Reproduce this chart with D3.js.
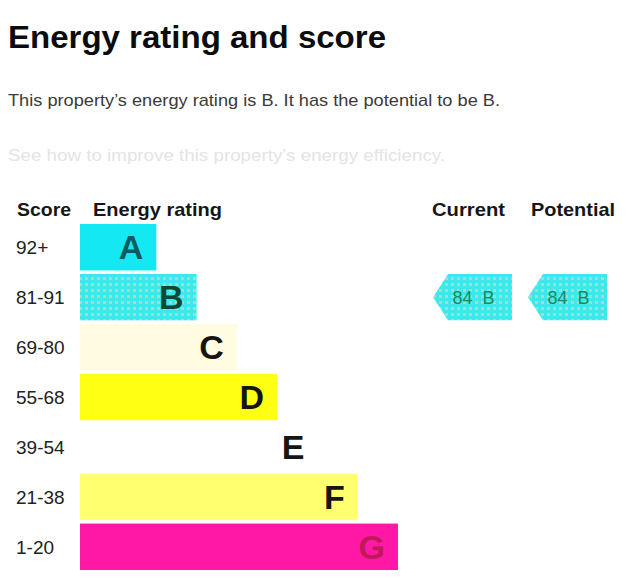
<!DOCTYPE html>
<html><head><meta charset="utf-8">
<script src="https://cdn.jsdelivr.net/npm/d3@7"></script>
<style>body{margin:0;background:#fff}svg{display:block}</style>
</head><body>
<script>
const bands = ["A","B","C","D","E","F","G"];
const scoreRanges = ["92+","81-91","69-80","55-68","39-54","21-38","1-20"];
const bandRank = [1,2,3,4,5,6,7];
const bandColors = ["#14e8f2","url(#dotsB)","#fffce2","#ffff14","#ffffff","#ffff70","#ff18a6"];
const letterColors = ["#0d5a60","#0f4a30","#151515","#151515","#151515","#151515","#c2185b"];
const headers = ["Score","Energy rating","Current","Potential"];
const currentScore = 84, currentBand = "B";
const potentialScore = 84, potentialBand = "B";

const W = 640, H = 585;
const FONT = "Liberation Sans, Arial, sans-serif";
const svg = d3.select("body").append("svg").attr("width", W).attr("height", H);
const defs = svg.append("defs");
const pat = defs.append("pattern").attr("id","dotsB").attr("patternUnits","userSpaceOnUse").attr("width",6).attr("height",6);
pat.append("rect").attr("width",6).attr("height",6).attr("fill","#3fe6ee");
pat.append("rect").attr("x",1).attr("y",1).attr("width",3).attr("height",3).attr("fill","#a9d6d8");

svg.append("text").attr("x",8).attr("y",48).attr("font-family",FONT)
  .attr("font-weight","bold").attr("font-size",31).attr("fill","#0b0c0c")
  .attr("textLength",378).attr("lengthAdjust","spacingAndGlyphs").text("Energy rating and score");
svg.append("text").attr("x",8).attr("y",106).attr("font-family",FONT)
  .attr("font-size",17).attr("fill","#3a3a3a")
  .attr("textLength",492).attr("lengthAdjust","spacingAndGlyphs").text("This property’s energy rating is B. It has the potential to be B.");
svg.append("text").attr("x",8).attr("y",161).attr("font-family",FONT)
  .attr("font-size",17).attr("fill","#e4e4e4")
  .attr("textLength",437).attr("lengthAdjust","spacingAndGlyphs").text("See how to improve this property’s energy efficiency.");

const y = d3.scaleBand().domain(bands).range([224, 570]).paddingInner(0.07).paddingOuter(0);
const x = d3.scaleLinear().domain([0,7]).range([116, 398]);
const x0 = 80;

const headerX = [17, 93, 432, 531];
const headerW = [54, 129, 73, 84];
svg.selectAll("text.hdr").data(headers).join("text").attr("class","hdr")
  .attr("x",(d,i)=>headerX[i]).attr("y",216)
  .attr("font-family",FONT).attr("font-size",19)
  .attr("font-weight","bold").attr("fill","#161616")
  .attr("textLength",(d,i)=>headerW[i]).attr("lengthAdjust","spacingAndGlyphs").text(d=>d);

const rows = svg.selectAll("g.row").data(bands).join("g").attr("class","row");
rows.append("rect").attr("x",x0).attr("y",d=>y(d))
  .attr("width",(d,i)=>x(bandRank[i])-x0).attr("height",y.bandwidth())
  .attr("fill",(d,i)=>bandColors[i]);
rows.append("text").attr("x",(d,i)=>x(bandRank[i])-13).attr("y",d=>y(d)+y.bandwidth()/2+12)
  .attr("text-anchor","end").attr("font-family",FONT)
  .attr("font-weight","bold").attr("font-size",34).attr("fill",(d,i)=>letterColors[i]).text(d=>d);
rows.append("text").attr("x",16).attr("y",d=>y(d)+y.bandwidth()/2+7)
  .attr("font-family",FONT).attr("font-size",19).attr("fill","#222")
  .text((d,i)=>scoreRanges[i]);

function arrow(left, right, band, score, letter){
  const top = y(band), bot = y(band)+y.bandwidth(), mid = (top+bot)/2;
  const tip = 15;
  const pts = [[left,mid],[left+tip,top],[right,top],[right,bot],[left+tip,bot]];
  svg.append("path").attr("d", d3.line()(pts)+"Z").attr("fill","url(#dotsB)");
  svg.append("text").attr("x",(left+right)/2+1).attr("y",mid+7).attr("text-anchor","middle")
    .attr("font-family",FONT).attr("font-size",18).attr("fill","#1c8a5c")
    .attr("xml:space","preserve").text(score+"  "+letter);
}
arrow(433, 512, currentBand, currentScore, currentBand);
arrow(528, 607, potentialBand, potentialScore, potentialBand);
</script>
</body></html>
